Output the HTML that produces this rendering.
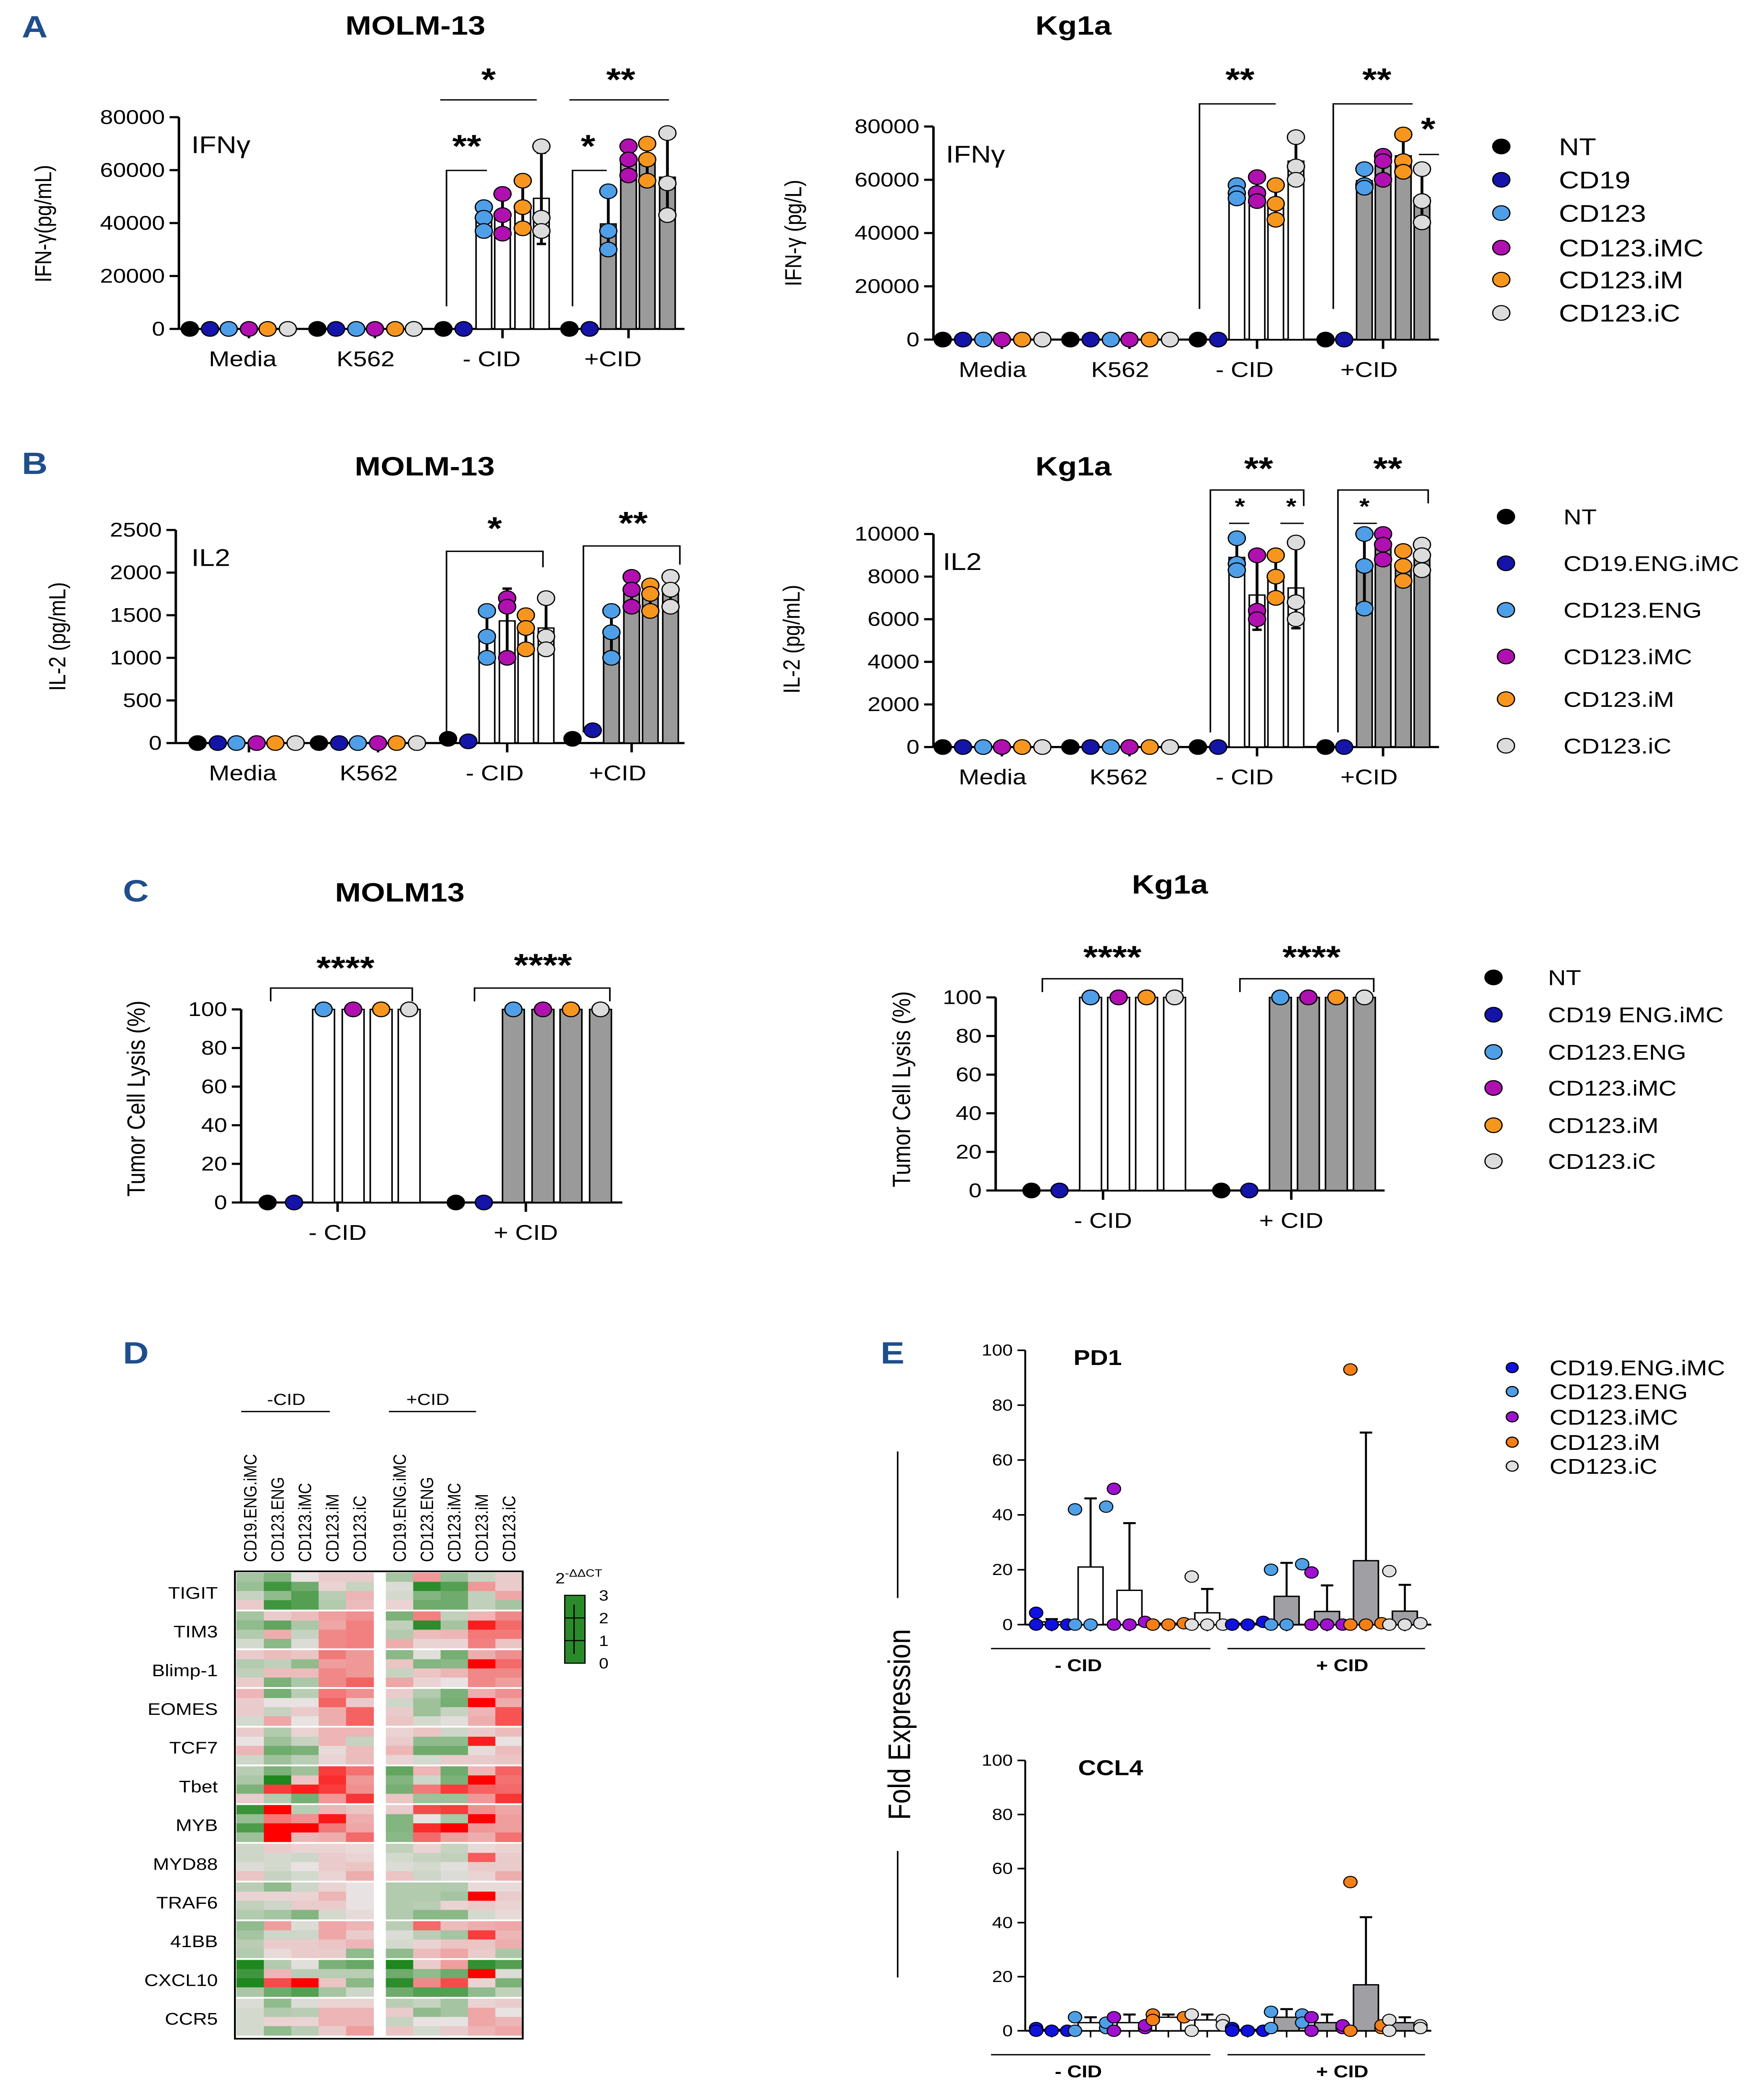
<!DOCTYPE html>
<html><head><meta charset="utf-8"><style>
html,body{margin:0;padding:0;background:#fff;overflow:hidden;width:100vw;height:100vh}
svg{display:block;width:100vw;height:100vh}
text{font-family:"Liberation Sans",Arial,sans-serif;fill:#000}
</style></head><body>
<svg id="fig" xmlns="http://www.w3.org/2000/svg" viewBox="0 0 1130 1577" preserveAspectRatio="none">
<rect x="0" y="0" width="1130" height="1577" fill="#fff"/>
</svg>
<script>
// ---------- DATA ----------
const colorsAB = ['#000000','#1414a8','#4f9fe8','#b010b0','#f7961f','#dcdcdc'];
const aLeftMinus = [[46000,42000,37000],[51000,43000,36000],[56000,46000,38000],[69000,42000,37000]];
const aLeftPlus  = [[52000,37000,30000],[69000,64000,58000],[70000,64000,56000],[74000,55000,43000]];
const aRightMinus= [[58000,55000,53000],[61000,55000,52000],[58000,51000,45000],[76000,65000,60000]];
const aRightPlus = [[64000,58000,57000],[69000,67000,60000],[77000,67000,63000],[64000,52000,44000]];
const bLeftMinus = [[1550,1250,1000],[1700,1600,1000],[1500,1350,1100],[1700,1250,1100]];
const bLeftPlus  = [[1550,1300,1000],[1950,1800,1600],[1850,1750,1550],[1950,1800,1600]];
const bLeftCtrlMinus = [50,20];
const bLeftCtrlPlus  = [50,150];
const bRightMinus= [[9800,8600,8300],[9000,6400,6000],[9000,8000,7000],[9600,6800,6000]];
const bRightPlus = [[10000,8500,6500],[10000,9500,8800],[9200,8500,7800],[9500,9000,8300]];
const cLysisMinus = [0,0,100,100,100,100];
const cLysisPlus  = [0,0,100,100,100,100];
const ticksIFN = [0,20000,40000,60000,80000];
const ticksIL2L = [0,500,1000,1500,2000,2500];
const ticksIL2R = [0,2000,4000,6000,8000,10000];
const ticksPct = [0,20,40,60,80,100];
const eColors = ['#1010e0','#4f9fe8','#a010d0','#f57f17','#e0e0e0'];
const pd1Bars = [1,21,12.5,0.5,4.3, 0.5,10.3,4.8,23.3,4.9];
const pd1Err  = [2,46,37,0.5,13, 1,22.5,14.3,70,14.5];
const pd1Pts  = [[4.3,0,0,0],[42,43,0,0],[49.5,1,0,0],[0,0.5,0,0],[17.5,0,0,0],[0,1,0,0],[20,22,0,0],[19,0,0,0],[93,0.5,0,0],[19.5,0.5,0,0]];
const ccl4Bars= [0.5,3,3,5,4, 0.5,5,3,17,3];
const ccl4Err = [1,5,6,6,6, 1,8,6,42,5];
const ccl4Pts = [[1,0,0,0],[5,1,0,3],[5,1,0,2],[6,5,4,5],[6,4,0,2],[1,0,0,0],[7,6,1,3],[5,1,0,2],[55,1,0,2],[4,2,0,1]];
const eTicks = [0,20,40,60,80,100];
const genes = ['TIGIT','TIM3','Blimp-1','EOMES','TCF7','Tbet','MYB','MYD88','TRAF6','41BB','CXCL10','CCR5'];
const hmCols = ['CD19.ENG.iMC','CD123.ENG','CD123.iMC','CD123.iM','CD123.iC'];
const hm = [
[-1,-1.5,0,0.3,0.3,-1,1,-1.2,-0.5,0.3],[-1.2,-2.5,-1.8,0.2,-0.5,-0.2,-2.8,-2.2,1,0.3],[-0.5,-1.3,-2.2,-0.7,0.6,-0.3,-1.5,-1.8,-0.6,0.8],[0.3,-2.5,-2.2,-0.8,0.5,0.2,-1.8,-1.8,-0.6,-1],
[-1,0.3,0.5,0.9,1.1,-1.6,1.3,-0.6,0.6,1.2],[-1.3,-2,-0.9,0.8,1.3,-0.6,-2.8,-1,2.6,1.6],[-0.8,0.7,-0.5,1.2,1.3,-0.8,0.5,0.6,1.4,1.4],[-0.3,-1.4,-0.2,1.2,1.3,0.7,0.2,0.2,1.3,0.4],
[0.3,0.5,0.4,1.4,1,-1.4,-0.1,-1.7,0.7,1.1],[-0.8,-0.6,-1.3,0.9,1,0.4,-1.5,-1.4,3,1.6],[-0.6,0.5,0.5,1.2,1,-0.5,0.4,0.6,1.2,1.2],[0.3,-1.6,-0.9,1.2,1.7,0.8,0.2,0,1.2,0.9],
[0.6,-1.7,-0.7,1.4,1.1,0.3,-0.8,-1.6,0.7,1.1],[0.3,0,0,1.7,0.3,-0.4,-1.1,-1.7,3,0.7],[0.3,-0.5,0.3,0.7,1.7,0.3,-1.1,-0.5,0.6,1.9],[-0.3,0.8,0,0.7,1.7,0.4,-0.3,-0.1,0.7,1.9],
[0.3,-0.8,0.2,0.6,0.6,0.2,0.4,-0.4,0.3,0.5],[0,-1.1,-0.5,0.6,-0.5,0.3,-1.3,-1.3,2.6,0],[0.6,-1.8,-1.6,0.1,0.5,0.6,-1.8,-1.8,0.1,0.5],[-0.4,-1.1,-0.7,0.2,0.5,0.2,-0.3,0.3,0.3,0.4],
[-0.7,-1.6,-1.1,2.2,1.5,-2,0.6,-1.8,0.6,1.7],[-0.9,-3,0.4,2.4,1,-1.5,-0.4,-1.6,3,1.5],[-1.6,2.2,2.6,2.2,1.1,-1.7,1.4,2.2,1.7,1.6],[0.3,-0.8,-1.7,1,2.3,0.4,-1.1,-1.1,1,2.3],
[-2.6,3,-0.7,0.6,0.4,0.3,2,2.2,1.1,0.8],[-1.2,1.4,1.1,2.7,0.7,-1.5,0,-0.9,3,0.9],[-2.3,3,3,1.4,0.8,-1.5,2.4,3,1,0.9],[-1.1,3,0.6,0.7,1.6,-1.4,1.6,0.9,0.7,1.5],
[-0.4,0.3,0.2,0.2,0.1,-0.6,0.2,-0.5,0.1,0.2],[-0.4,-0.3,-0.4,0.3,0.2,-0.3,-0.5,-0.6,1.8,0.3],[-0.2,-0.3,0,0.3,0.4,-0.2,-0.3,-0.1,0.3,0.3],[0.4,-0.5,-0.3,0.2,0.7,0.4,-0.4,-0.2,0.2,0.7],
[-0.7,-1.3,-0.4,0.2,0,-0.8,-0.8,-0.8,0.1,0.1],[0.2,0.2,0.2,0.6,0,-0.8,-0.8,-1,3,0.3],[-0.6,-0.4,0.3,0.3,0,-0.8,-0.7,0.2,0.3,0.2],[-0.8,-1,-1.5,-0.3,0.1,-0.8,-1.4,-1.4,-0.3,0.1],
[-1.3,0.9,-0.2,0.8,0.6,-0.7,1.6,0.5,0.7,0.8],[-1,-0.4,-0.4,0.8,0.3,-0.2,-0.7,-1,2.2,0.6],[-0.7,0.3,0.3,0.4,0.6,-0.3,0.2,0.4,0.4,0.7],[-0.8,0.1,0.3,0.3,-1.3,-1.3,0.5,0.8,0.3,-0.9],
[-3,-0.8,-0.1,-1.6,-1.9,-3,0.3,0.9,-2.7,-2.2],[-2.5,0.6,-0.7,-0.7,-0.7,-1.8,-1.3,-1.8,3,-0.2],[-3,2,3,0.4,-1.4,-2.8,1.2,2,0.2,-1.6],[-0.9,-1.8,-2.2,-1,-0.4,-1.8,-2.2,-2.2,-1.3,-0.6],
[-0.2,-1.3,-0.2,0.2,0.2,-0.7,-0.5,-1,0.2,0.3],[-0.3,-0.8,-0.7,0.6,0.6,0.3,-1.3,-1,0.8,0],[-0.3,0.2,0.2,0.6,0.6,-0.5,0,0,0.8,0.6],[-0.3,-1.3,-0.7,0.3,0.9,0.4,-0.3,0.3,0.6,0.8]
];

// ---------- HELPERS ----------
const NS='http://www.w3.org/2000/svg';
const svg=document.getElementById('fig');
function mk(tag,attrs,parent){const e=document.createElementNS(NS,tag);for(const k in attrs)e.setAttribute(k,attrs[k]);(parent||svg).appendChild(e);return e;}
function txt(x,y,s,size,opts,parent){opts=opts||{};const e=mk('text',{x:x,y:y,'font-size':size,'text-anchor':opts.anchor||'start','font-weight':opts.bold?'bold':'normal'},parent);if(opts.rot)e.setAttribute('transform','rotate(-90 '+x+' '+y+')');if(opts.fill)e.setAttribute('style','fill:'+opts.fill);e.textContent=s;return e;}
function line(x1,y1,x2,y2,w,parent){return mk('line',{x1:x1,y1:y1,x2:x2,y2:y2,stroke:'#000','stroke-width':w||1},parent);}
function mean(a){return a.reduce((s,v)=>s+v,0)/a.length;}
function sd(a){const m=mean(a);return Math.sqrt(a.reduce((s,v)=>s+(v-m)*(v-m),0)/Math.max(1,a.length-1));}
function fmt(v){return String(v);}

function dotBar(name,cfg){
  const g=mk('g',{});
  
  
  const ys=v=>cfg.yb-(v/cfg.max)*(cfg.yb-cfg.yt);
  const ax=line(cfg.x0,cfg.yt,cfg.x0,cfg.yb,1.6,g);
  
  
  cfg.ticks.forEach(t=>{const y=ys(t);line(cfg.x0-6,y,cfg.x0,y,1.6,g);
    const tl=txt(cfg.x0-9,y+5,fmt(t),cfg.tickSize||15,{anchor:'end'},g);
    
    });
  const xa=line(cfg.x0,cfg.yb,cfg.x1,cfg.yb,1.6,g);
  
  
  const r=cfg.r||5.5, bw=cfg.bw||10;
  cfg.groups.forEach(gr=>{
    const gg=mk('g',{},g);
    
    
    if(gr.tick) line(gr.tick,cfg.yb,gr.tick,cfg.yb+7,1.6,gg);
    const lab=txt(gr.lx,cfg.yb+(cfg.labDy||28),gr.label,cfg.labSize||16,{anchor:'middle'},gg);
    
    
    gr.items.forEach((it,i)=>{
      const x=gr.xs[i];
      if(it.bar){
        const m=mean(it.pts), s=sd(it.pts);
        const b=mk('rect',{x:x-bw/2,y:ys(m),width:bw,height:cfg.yb-ys(m),fill:gr.fill,stroke:'#000','stroke-width':1},gg);
        
        
        if(s>0){line(x,ys(m-s),x,ys(m+s),1.8,gg);line(x-3,ys(m+s),x+3,ys(m+s),1.8,gg);line(x-3,ys(m-s),x+3,ys(m-s),1.8,gg);}
      }
      it.pts.forEach(v=>{
        const c=mk('circle',{cx:x,cy:ys(v),r:r,fill:colorsAB[i],stroke:'#000','stroke-width':0.8},gg);
        
        
      });
    });
  });
  return g;
}
function groupItems(ctrl,bars){
  return [{pts:[ctrl[0]]},{pts:[ctrl[1]]}].concat(bars.map(p=>({bar:true,pts:p})));
}
function flatItems(){return [0,1,2,3,4,5].map(()=>({pts:[0]}));}
function legend(name,x,ys,labels,tx,size,r,cols){
  const g=mk('g',{});
  
  
  ys.forEach((y,i)=>{
    const e=mk('g',{},g);
    
    
    mk('circle',{cx:x,cy:y,r:r,fill:(cols||colorsAB)[i],stroke:'#000','stroke-width':0.8},e);
    txt(tx,y+size*0.36,labels[i],size,{},e);
  });
}
function stars(s,x,y,size){const t=txt(x,y,s,size||24,{anchor:'middle',bold:true});return t;}
function path(d,w){return mk('path',{d:d,fill:'none',stroke:'#000','stroke-width':w||1});}
function title(s,x,y,size){const t=txt(x,y,s,size||20,{anchor:'middle',bold:true});return t;}
function letter(s,x,y){const t=txt(x,y,s,23,{bold:true,fill:'#1f4e8c'});}

// ---------- PANEL A ----------
letter('A',14,28);
title('MOLM-13',267,26);
title('Kg1a',690,26);
dotBar('chart-a-molm13',{x0:115,x1:440,yb:247,yt:88,max:80000,ticks:ticksIFN,
 groups:[{label:'Media',lx:156,tick:160,xs:[122,135,147,160,172,185],items:flatItems()},
         {label:'K562',lx:235,tick:241,xs:[204,216,229,241,254,266],items:flatItems()},
         {label:'- CID',lx:316,tick:323,xs:[285,298,311,323,336,348],items:groupItems([0,0],aLeftMinus),fill:'#fff'},
         {label:'+CID',lx:394,tick:404,xs:[366,379,391,404,416,429],items:groupItems([0,0],aLeftPlus),fill:'#9a9a9a'}]});
txt(33,168,'IFN-γ(pg/mL)',15,{anchor:'middle',rot:true});
txt(123,115,'IFNγ',18);
stars('*',314,68);path('M283 75 H345');stars('**',399,68);path('M366 75 H430');
stars('**',300,118);path('M287 230 V128 H313');stars('*',378,118);path('M368 230 V128 H390');

dotBar('chart-a-kg1a',{x0:600,x1:925,yb:255,yt:95,max:80000,ticks:ticksIFN,
 groups:[{label:'Media',lx:638,tick:644,xs:[606,619,632,644,657,670],items:flatItems()},
         {label:'K562',lx:720,tick:726,xs:[688,701,714,726,739,752],items:flatItems()},
         {label:'- CID',lx:800,tick:808,xs:[770,783,795,808,820,833],items:groupItems([0,0],aRightMinus),fill:'#fff'},
         {label:'+CID',lx:880,tick:889,xs:[852,864,877,889,902,914],items:groupItems([0,0],aRightPlus),fill:'#9a9a9a'}]});
txt(515,175,'IFN-γ (pg/L)',15,{anchor:'middle',rot:true});
txt(608,122,'IFNγ',18);
stars('**',797,68);path('M771 232 V78 H820');stars('**',885,68);path('M857 232 V78 H908');
stars('*',918,105);path('M912 116 H925');
legend('legend-a',965,[110,135,160,186,210,235],['NT','CD19','CD123','CD123.iMC','CD123.iM','CD123.iC'],1002,18,5.5);

// ---------- PANEL B ----------
letter('B',14,356);
title('MOLM-13',273,357);
title('Kg1a',690,357);
dotBar('chart-b-molm13',{x0:113,x1:440,yb:558,yt:398,max:2500,ticks:ticksIL2L,
 groups:[{label:'Media',lx:156,tick:160,xs:[127,140,152,165,177,190],items:flatItems()},
         {label:'K562',lx:237,tick:243,xs:[205,218,230,243,255,268],items:flatItems()},
         {label:'- CID',lx:318,tick:326,xs:[288,301,313,326,338,351],items:groupItems(bLeftCtrlMinus,bLeftMinus),fill:'#fff'},
         {label:'+CID',lx:397,tick:406,xs:[368,381,393,406,418,431],items:groupItems(bLeftCtrlPlus,bLeftPlus),fill:'#9a9a9a'}]});
txt(42,478,'IL-2 (pg/mL)',15,{anchor:'middle',rot:true});
txt(123,425,'IL2',18);
stars('*',318,405);path('M287 550 V414 H349 V426');stars('**',407,401);path('M375 550 V410 H437 V424');

dotBar('chart-b-kg1a',{x0:600,x1:925,yb:561,yt:401,max:10000,ticks:ticksIL2R,
 groups:[{label:'Media',lx:638,tick:644,xs:[606,619,632,644,657,670],items:flatItems()},
         {label:'K562',lx:719,tick:726,xs:[688,701,714,726,739,752],items:flatItems()},
         {label:'- CID',lx:800,tick:808,xs:[770,783,795,808,820,833],items:groupItems([0,0],bRightMinus),fill:'#fff'},
         {label:'+CID',lx:880,tick:889,xs:[852,864,877,889,902,914],items:groupItems([0,0],bRightPlus),fill:'#9a9a9a'}]});
txt(514,480,'IL-2 (pg/mL)',15,{anchor:'middle',rot:true});
txt(606,428,'IL2',18);
stars('**',809,360);path('M778 550 V368 H838 V380');stars('*',797,386,17);path('M790 393 H803');stars('*',830,386,17);path('M823 393 H838');
stars('**',892,360);path('M860 550 V368 H918 V378');stars('*',877,386,17);path('M870 393 H885');
legend('legend-b',968,[388,423,458,493,525,560],['NT','CD19.ENG.iMC','CD123.ENG','CD123.iMC','CD123.iM','CD123.iC'],1005,16,5.5);

// ---------- PANEL C ----------
letter('C',79,677);
title('MOLM13',257,677);
title('Kg1a',752,671);
function cItems(v){return v.map((x,i)=>i<2?{pts:[x]}:{bar:true,pts:[x,x,x]});}
dotBar('chart-c-molm13',{x0:155,x1:400,yb:903,yt:758,max:100,ticks:ticksPct,bw:14,
 groups:[{label:'- CID',lx:217,tick:217,xs:[172,189,208,227,245,263],items:cItems(cLysisMinus),fill:'#fff'},
         {label:'+ CID',lx:338,tick:338,xs:[293,311,330,349,367,386],items:cItems(cLysisPlus),fill:'#9a9a9a'}]});
txt(93,825,'Tumor Cell Lysis (%)',16,{anchor:'middle',rot:true});
stars('****',222,735);path('M174 752 V742 H265 V752');stars('****',349,733);path('M305 752 V742 H392 V752');

dotBar('chart-c-kg1a',{x0:640,x1:890,yb:894,yt:749,max:100,ticks:ticksPct,bw:14,
 groups:[{label:'- CID',lx:709,tick:709,xs:[663,681,701,719,737,755],items:cItems(cLysisMinus),fill:'#fff'},
         {label:'+ CID',lx:830,tick:830,xs:[785,803,823,841,859,877],items:cItems(cLysisPlus),fill:'#9a9a9a'}]});
txt(585,818,'Tumor Cell Lysis (%)',16,{anchor:'middle',rot:true});
stars('****',715,727);path('M670 745 V735 H760 V745');stars('****',843,727);path('M797 745 V735 H883 V745');
legend('legend-c',960,[734,762,790,817,845,872],['NT','CD19 ENG.iMC','CD123.ENG','CD123.iMC','CD123.iM','CD123.iC'],995,16,5.5);

// ---------- PANEL D ----------
letter('D',79,1024);
(function(){
  const g=mk('g',{});
  
  
  const lx0=152, rx0=248, cw=17.6, y0=1181, gh=29.08, sep=1.6, rh=(gh-sep)/4;
  function col(v){const t=Math.min(1,Math.abs(v)/3);const base=[232,226,226];
    const tgt=v>=0?[255,0,0]:[30,135,30];
    const c=base.map((b,i)=>Math.round(b+(tgt[i]-b)*t));return 'rgb('+c.join(',')+')';}
  hm.forEach((row,ri)=>{
    const gi=Math.floor(ri/4), k=ri%4;
    const y=y0+gi*gh+k*rh;
    row.forEach((v,ci)=>{
      const x=ci<5?lx0+ci*cw:rx0+(ci-5)*cw;
      const c=mk('rect',{x:x,y:y,width:cw+0.3,height:rh+0.3,fill:col(v)},g);
      
      
    });
  });
  mk('rect',{x:151,y:1180,width:185,height:351,fill:'none',stroke:'#000','stroke-width':1.2},g);
  genes.forEach((n,i)=>{const t=txt(140,y0+i*gh+gh/2+5,n,12.5,{anchor:'end'},g);
    
    });
  [lx0,rx0].forEach(x0=>hmCols.forEach((n,i)=>{const x=x0+i*cw+cw/2+4;const t=txt(x,1173,n,11.5,{rot:true},g);
    
    }));
  txt(184,1055,'-CID',12,{anchor:'middle'},g);line(155,1060,212,1060,1,g);
  txt(275,1055,'+CID',12,{anchor:'middle'},g);line(250,1060,306,1060,1,g);
  const sc=mk('g',{},g);
  
  
  const st=txt(357,1189,'2',11,{},sc);const sp=mk('tspan',{dy:-5,'font-size':8},st);sp.textContent='-ΔΔCT';
  mk('rect',{x:363,y:1198,width:13,height:51,fill:'#2a8a2a',stroke:'#000','stroke-width':0.8},sc);
  line(363,1215,376,1215,0.8,sc);line(363,1232,376,1232,0.8,sc);line(369,1205,369,1242,0.8,sc);
  ['3','2','1','0'].forEach((s,i)=>txt(385,1202+i*17,s,11,{},sc));
})();

// ---------- PANEL E ----------
letter('E',566,1024);
const eX=[676,701,726,751,776,802,827,853,878,903];
const eOff=[-10,10,-10,10];
function ePanel(name,ttl,yb,yt,bars,errs,pts,tx,ty){
  const g=mk('g',{});
  
  
  const ys=v=>yb-(v/100)*(yb-yt);
  line(659,yt,659,yb,1.2,g);line(659,yb,920,yb,1.4,g);
  eTicks.forEach(t=>{line(654,ys(t),659,ys(t),1.2,g);const l=txt(651,ys(t)+4,String(t),12,{anchor:'end'},g);
    
    });
  txt(tx,ty,ttl,16,{bold:true},g);
  bars.forEach((v,i)=>{
    const x=eX[i];
    line(x,yb,x,yb+5,1,g);
    const b=mk('rect',{x:x-8,y:ys(v),width:16,height:yb-ys(v),fill:i<5?'#fff':'#a0a0a4',stroke:'#000','stroke-width':1},g);
    
    
    line(x,ys(v),x,ys(errs[i]),1.3,g);line(x-4,ys(errs[i]),x+4,ys(errs[i]),1.5,g);
    pts[i].forEach((p,j)=>{const c=mk('circle',{cx:x+(p===0&&j===3?0:eOff[j]),cy:ys(p),r:4.3,fill:eColors[i%5],stroke:'#000','stroke-width':0.7},g);
      
      });
  });
  line(637,yb+18,778,yb+18,1,g);line(789,yb+18,916,yb+18,1,g);
  txt(678,yb+35,'-  CID',13,{bold:true},g);txt(846,yb+35,'+  CID',13,{bold:true},g);
}
ePanel('chart-e-pd1','PD1',1220,1014,pd1Bars,pd1Err,pd1Pts,690,1025);
ePanel('chart-e-ccl4','CCL4',1525,1322,ccl4Bars,ccl4Err,ccl4Pts,693,1333);
(function(){const t=txt(585,1295,'Fold Expression',20,{anchor:'middle',rot:true});
  
  
  line(577,1090,577,1200,1);line(577,1390,577,1485,1);})();
legend('legend-e',972,[1027,1045,1064,1083,1101],['CD19.ENG.iMC','CD123.ENG','CD123.iMC','CD123.iM','CD123.iC'],996,16,3.8,eColors);
</script>
</body></html>
